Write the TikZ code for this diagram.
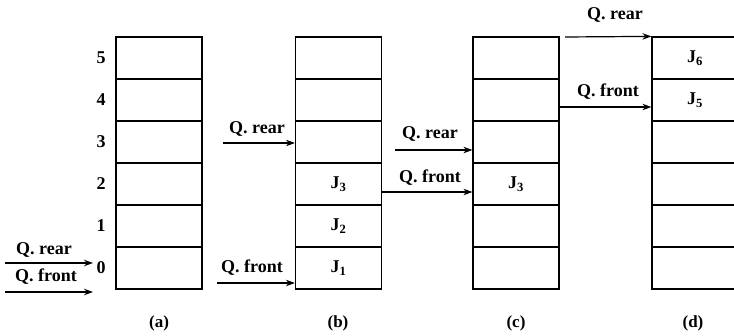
\documentclass[tikz,border=0pt]{standalone}
\usepackage{fontspec}
\setmainfont{Liberation Serif}
\usetikzlibrary{arrows.meta}
\begin{document}
\begin{tikzpicture}[x=1pt,y=-1pt,
  cell/.style={draw,line width=1.2pt,minimum width=86pt,minimum height=42pt,inner sep=0pt},
  lbl/.style={font=\bfseries\fontsize{18}{18}\selectfont,inner sep=0pt},
  captext/.style={font=\bfseries\fontsize{17}{17}\selectfont,inner sep=0pt},
  arr/.style={line width=1.2pt,-{Stealth[length=9pt,width=6.5pt]}}]
\useasboundingbox (0,0) rectangle (734,336);
% stacks
\foreach \k in {0,...,5} {
  \node[cell] (a\k) at (159,{268-42*\k}) {};
  \node[cell] (b\k) at (338.5,{268-42*\k}) {};
  \node[cell] (c\k) at (516,{268-42*\k}) {};
  \node[cell] (d\k) at (695,{268-42*\k}) {};
  \node[lbl] (n\k) at (101,{268-42*\k}) {\k};
}
% contents
\node[lbl] (j1) at (b0) {J\textsubscript{1}};
\node[lbl] (j2) at (b1) {J\textsubscript{2}};
\node[lbl] (j3) at (b2) {J\textsubscript{3}};
\node[lbl] (cj3) at (c2) {J\textsubscript{3}};
\node[lbl] (dj5) at (d4) {J\textsubscript{5}};
\node[lbl] (dj6) at (d5) {J\textsubscript{6}};
% (a) pointers
\node[lbl] (arl) at (44,250) {Q. rear};
\coordinate (ars) at (5,263);
\coordinate (are) at (93,263);
\draw[arr] (ars) -- (are);
\node[lbl] (afl) at (46,277) {Q. front};
\coordinate (afs) at (5,292);
\coordinate (afe) at (93,292);
\draw[arr] (afs) -- (afe);
% (b) pointers
\node[lbl] (brl) at (257,129) {Q. rear};
\coordinate (brs) at (223,143);
\draw[arr] (brs) -- (brs -| b3.west);
\node[lbl] (bfl) at (252,268) {Q. front};
\coordinate (bfs) at (217,283);
\draw[arr] (bfs) -- (bfs -| b0.west);
% (c) pointers
\node[lbl] (crl) at (430,134) {Q. rear};
\coordinate (crs) at (395,150);
\draw[arr] (crs) -- (crs -| c3.west);
\node[lbl] (cfl) at (430,178) {Q. front};
\draw[arr] ([yshift=-8pt]b2.east) -- ([yshift=-8pt]c2.west);
% (d) pointers
\node[lbl] (drl) at (615,15) {Q. rear};
\coordinate (drs) at (565,37);
\draw[arr] (drs) -- (d5.north west);
\node[lbl] (dfl) at (608,92) {Q. front};
\draw[arr] ([yshift=-7pt]c4.east) -- ([yshift=-7pt]d4.west);
% captions
\node[captext] (capa) at (159,323) {(a)};
\node[captext] (capb) at (338,323) {(b)};
\node[captext] (capc) at (516,323) {(c)};
\node[captext] (capd) at (693,323) {(d)};
\end{tikzpicture}
\end{document}
